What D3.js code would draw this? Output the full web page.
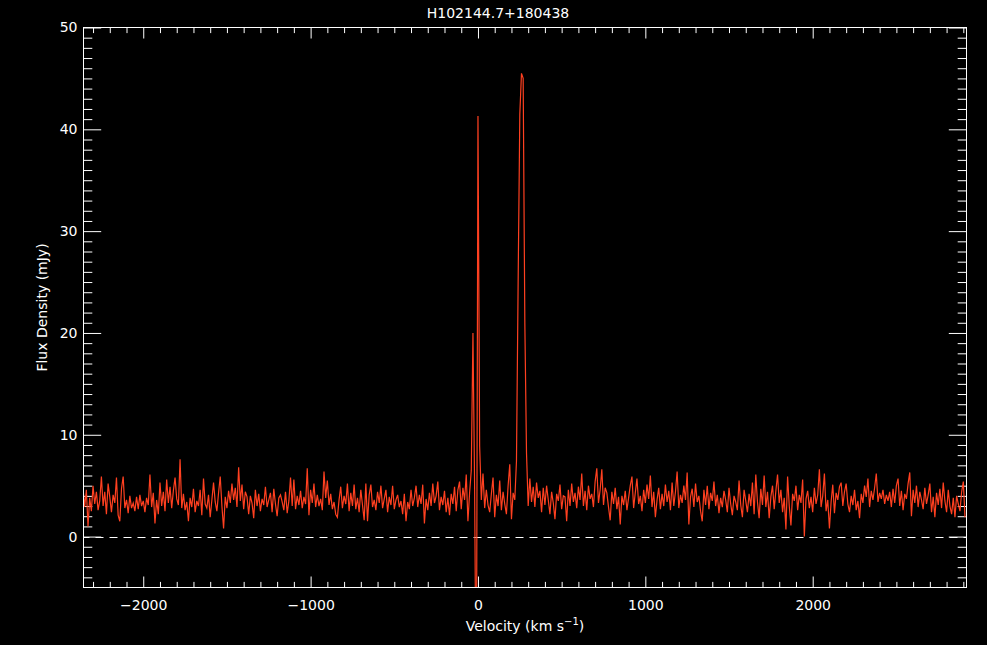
<!DOCTYPE html>
<html>
<head>
<meta charset="utf-8">
<script src="https://cdn.jsdelivr.net/npm/d3@7"></script>
<style>
  html, body { margin: 0; padding: 0; background: #000; }
  svg { display: block; }
  text { font-family: "DejaVu Sans", sans-serif; fill: #fff; }
</style>
</head>
<body>
<svg id="chart" width="987" height="645"></svg>
<script>
// ---- data ----
const title = "H102144.7+180438";
const xLabel = "Velocity (km s";
const yLabel = "Flux Density (mJy)";
const velocityStart = -2360;   // km/s, first channel
const velocityStep = 10;       // km/s per channel
const xDomain = [-2357, 2919];
const yDomain = [-5, 50];
const xTickLabels = [-2000, -1000, 0, 1000, 2000];
const yTickLabels = [0, 10, 20, 30, 40, 50];
const flux = [
  4.8, 2.9, 4.6, 1.0, 3.8, 2.5, 5.0, 3.2, 4.4, 2.6,
  3.5, 5.9, 3.0, 4.4, 2.2, 5.2, 3.9, 2.4, 4.1, 3.3,
  5.8, 2.1, 1.5, 4.7, 5.9, 2.8, 3.6, 2.3, 4.0, 2.8,
  3.3, 2.5, 3.9, 2.7, 4.1, 3.0, 3.5, 2.4, 3.8, 3.1,
  6.1, 2.9, 4.3, 1.3, 3.6, 2.2, 5.3, 3.0, 4.4, 2.5,
  5.6, 3.3, 4.9, 2.8, 4.5, 5.8, 3.7, 3.1, 7.6, 2.8,
  4.2, 2.6, 3.4, 1.5, 3.8, 2.9, 4.7, 2.4, 3.5, 3.0,
  4.6, 2.1, 5.7, 3.2, 2.8, 4.1, 1.9, 3.6, 5.3, 3.4,
  2.5, 4.3, 5.9, 3.0, 0.8, 3.9, 2.8, 4.5, 3.3, 5.2,
  3.6, 4.8, 2.9, 6.8, 3.5, 5.1, 2.7, 4.4, 3.9, 2.2,
  4.0, 3.3, 1.8, 4.6, 3.0, 4.2, 2.5, 3.7, 3.1, 4.9,
  2.9, 3.6, 4.3, 2.4, 4.7, 3.2, 2.0, 3.8, 4.1, 3.4,
  2.6, 4.4, 2.3, 3.5, 5.8, 3.0, 5.6, 2.7, 4.0, 3.1,
  4.5, 2.8, 3.9, 3.2, 6.7, 2.1, 4.6, 3.3, 5.2, 2.9,
  4.1, 3.0, 3.7, 2.6, 6.4, 3.8, 5.5, 3.1, 4.2, 2.7,
  3.4, 2.2, 1.9, 3.6, 4.9, 2.8, 4.0, 3.2, 5.2, 2.5,
  4.3, 3.0, 5.1, 2.7, 3.8, 2.4, 4.6, 3.1, 1.6, 5.2,
  1.5, 4.1, 5.1, 2.9, 3.6, 2.6, 4.4, 3.3, 5.0, 2.8,
  3.7, 4.6, 2.4, 3.9, 3.1, 5.0, 2.7, 3.6, 4.1, 2.9,
  3.5, 2.2, 4.2, 1.5, 3.4, 2.7, 4.6, 3.0, 3.8, 5.0,
  2.9, 4.1, 3.2, 5.1, 1.3, 3.7, 2.6, 4.3, 3.0, 5.2,
  3.3, 4.0, 5.4, 2.6, 3.9, 3.1, 4.5, 2.4, 3.8, 2.1,
  4.2, 3.2, 4.9, 2.5, 4.6, 5.4, 2.7, 4.8, 3.6, 6.1,
  1.5, 4.3, 6.5, 20.0, 4.8, -20.0, 41.3, 8.9, 3.6, 6.2,
  2.8, 4.6, 3.1, 2.4, 4.2, 5.8, 1.9, 4.1, 3.0, 5.5,
  2.6, 4.4, 3.2, 2.2, 5.0, 7.1, 1.7, 4.3, 3.6, 7.4,
  25.0, 41.5, 45.5, 45.0, 21.0, 8.2, 3.0, 5.7, 3.4, 4.9,
  2.9, 5.3, 3.8, 4.5, 2.4, 4.8, 3.1, 5.0, 3.6, 2.2,
  4.4, 3.3, 1.7, 4.2, 3.5, 5.1, 2.7, 4.0, 3.9, 1.5,
  4.6, 3.0, 5.2, 3.4, 4.3, 2.8, 4.9, 3.6, 6.2, 3.0,
  4.5, 2.6, 5.0, 3.7, 4.2, 2.9, 5.4, 6.7, 3.3, 4.6,
  6.6, 3.1, 4.8, 4.3, 2.9, 1.6, 4.4, 3.2, 4.8, 2.7,
  3.9, 1.2, 4.0, 3.1, 4.5, 2.6, 3.8, 5.0, 5.9, 2.8,
  4.3, 5.7, 3.2, 4.0, 2.5, 4.6, 3.3, 5.1, 3.7, 6.0,
  2.9, 4.4, 1.9, 3.6, 4.8, 2.7, 4.2, 3.0, 5.1, 3.4,
  4.5, 2.6, 5.3, 3.0, 4.4, 6.4, 2.8, 4.1, 3.3, 5.0,
  3.6, 6.3, 1.2, 3.9, 4.7, 2.9, 5.2, 3.4, 4.0, 2.5,
  1.5, 4.6, 3.1, 5.0, 2.7, 4.3, 3.5, 5.4, 3.0, 4.1,
  2.3, 3.8, 2.9, 4.5, 3.6, 2.4, 4.8, 3.2, 2.1, 4.0,
  3.4, 2.6, 5.5, 3.1, 1.9, 4.6, 3.5, 2.4, 4.2, 3.0,
  5.3, 2.2, 6.1, 3.4, 1.8, 4.7, 3.1, 6.0, 2.9, 4.4,
  1.8, 3.9, 5.0, 2.7, 4.5, 6.1, 3.3, 4.6, 2.4, 3.8,
  0.7, 5.9, 3.0, 1.1, 4.2, 3.5, 5.0, 2.6, 4.1, 3.3,
  5.6, 0.0, 3.7, 4.5, 2.8, 3.9, 2.4, 4.8, 3.2, 4.1,
  6.6, 2.9, 4.0, 6.2, 2.5, 3.6, 0.8, 3.4, 5.1, 2.3,
  4.3, 3.6, 4.9, 5.3, 3.0, 4.4, 5.2, 3.2, 2.4, 4.0,
  3.1, 4.6, 2.6, 3.5, 1.8, 4.2, 3.3, 5.0, 3.9, 5.7,
  2.9, 4.5, 3.6, 4.8, 6.2, 3.4, 4.3, 3.7, 4.6, 3.2,
  4.1, 3.5, 4.4, 2.9, 4.7, 3.3, 5.0, 5.7, 3.0, 4.5,
  2.6, 4.2, 3.7, 5.2, 6.3, 2.0, 4.6, 3.3, 5.0, 2.9,
  4.4, 3.6, 2.7, 4.8, 3.2, 4.1, 5.2, 2.4, 3.9, 1.9,
  4.3, 3.1, 4.7, 2.8, 5.3, 3.5, 2.4, 4.6, 3.0, 2.2,
  3.8, 1.9, 4.0, 3.2, 2.5, 4.4, 5.4, 1.9
];

// ---- layout ----
const L = 83.5, R = 966.5, T = 27.5, B = 587.5;
const svg = d3.select("#chart");
svg.append("rect").attr("width", 987).attr("height", 645).attr("fill", "#000");

const x = d3.scaleLinear().domain(xDomain).range([L, R]);
const y = d3.scaleLinear().domain(yDomain).range([B, T]);

const xMajorLen = 11, xMinorLen = 5.6, yMajorLen = 17.7, yMinorLen = 8.8;
const xMinor = d3.range(-2300, 2901, 100).filter(v => v % 1000 !== 0);
const yMinor = d3.range(-4, 50, 1).filter(v => v % 10 !== 0);
const fmt = d3.format("d");

function styleAxis(g) {
  g.select(".domain").remove();
  g.selectAll(".tick line").attr("stroke", "#fff").attr("stroke-width", 1);
  g.selectAll(".tick text").attr("fill", "#fff")
    .style("font-family", "'DejaVu Sans', sans-serif").style("font-size", "14px");
}

// bottom
svg.append("g").attr("transform", `translate(0,${B})`)
  .call(d3.axisBottom(x).tickValues(xTickLabels).tickFormat(fmt).tickSizeInner(-xMajorLen).tickSizeOuter(0).tickPadding(13))
  .call(styleAxis);
svg.append("g").attr("transform", `translate(0,${B})`)
  .call(d3.axisBottom(x).tickValues(xMinor).tickSizeInner(-xMinorLen).tickSizeOuter(0).tickFormat(""))
  .call(styleAxis);
// top
svg.append("g").attr("transform", `translate(0,${T})`)
  .call(d3.axisTop(x).tickValues(xTickLabels).tickSizeInner(-xMajorLen).tickSizeOuter(0).tickFormat(""))
  .call(styleAxis);
svg.append("g").attr("transform", `translate(0,${T})`)
  .call(d3.axisTop(x).tickValues(xMinor).tickSizeInner(-xMinorLen).tickSizeOuter(0).tickFormat(""))
  .call(styleAxis);
// left
svg.append("g").attr("transform", `translate(${L},0)`)
  .call(d3.axisLeft(y).tickValues(yTickLabels).tickFormat(fmt).tickSizeInner(-yMajorLen).tickSizeOuter(0).tickPadding(6))
  .call(styleAxis);
svg.append("g").attr("transform", `translate(${L},0)`)
  .call(d3.axisLeft(y).tickValues(yMinor).tickSizeInner(-yMinorLen).tickSizeOuter(0).tickFormat(""))
  .call(styleAxis);
// right
svg.append("g").attr("transform", `translate(${R},0)`)
  .call(d3.axisRight(y).tickValues(yTickLabels).tickSizeInner(-yMajorLen).tickSizeOuter(0).tickFormat(""))
  .call(styleAxis);
svg.append("g").attr("transform", `translate(${R},0)`)
  .call(d3.axisRight(y).tickValues(yMinor).tickSizeInner(-yMinorLen).tickSizeOuter(0).tickFormat(""))
  .call(styleAxis);

// clip
svg.append("clipPath").attr("id", "plotclip")
  .append("rect").attr("x", L).attr("y", T).attr("width", R - L).attr("height", B - T);

// zero line
svg.append("line")
  .attr("x1", x(xDomain[0])).attr("x2", x(xDomain[1]))
  .attr("y1", Math.round(y(0)) + 0.5).attr("y2", Math.round(y(0)) + 0.5)
  .attr("stroke", "#fff").attr("stroke-width", 1)
  .attr("stroke-dasharray", "8,6").attr("stroke-dashoffset", -12);

// spectrum
const pts = flux.map((f, i) => [velocityStart + i * velocityStep, f]);
svg.append("path")
  .datum(pts)
  .attr("clip-path", "url(#plotclip)")
  .attr("fill", "none")
  .attr("stroke", "#ff4020")
  .attr("stroke-width", 1.2)
  .attr("d", d3.line().x(d => x(d[0])).y(d => y(d[1])));

// frame
svg.append("rect").attr("x", L).attr("y", T).attr("width", R - L).attr("height", B - T)
  .attr("fill", "none").attr("stroke", "#fff").attr("stroke-width", 1);

// texts
svg.append("text").attr("x", (L + R) / 2 - 27).attr("y", 18)
  .attr("text-anchor", "middle").style("font-size", "14px").text(title);

const xl = svg.append("text").attr("x", (L + R) / 2).attr("y", 631)
  .attr("text-anchor", "middle").style("font-size", "14px");
xl.append("tspan").text(xLabel);
xl.append("tspan").attr("dy", -6).style("font-size", "10px").text("\u22121");
xl.append("tspan").attr("dy", 6).text(")");

svg.append("text")
  .attr("transform", `translate(47,${(T + B) / 2}) rotate(-90)`)
  .attr("text-anchor", "middle").style("font-size", "14px").text(yLabel);
</script>
</body>
</html>
